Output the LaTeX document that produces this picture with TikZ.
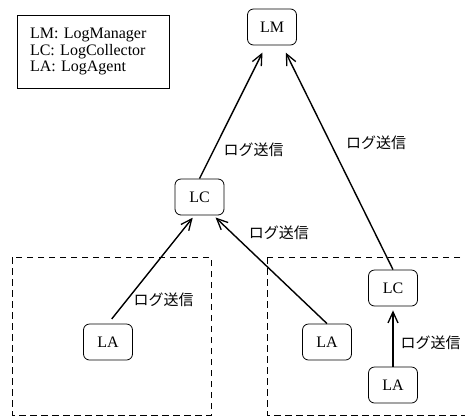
\documentclass[tikz,border=0pt]{standalone}
\usepackage{fontspec}
\setmainfont{Liberation Serif}
\newfontfamily\jpfont{Noto Sans CJK JP}
\usetikzlibrary{positioning,arrows.meta}

\begin{document}
\begin{tikzpicture}[x=1pt, y=-1pt, font=\fontsize{16}{16.5}\selectfont,
    box/.style={draw, line width=0.8pt, rounded corners=6pt, minimum width=49pt, minimum height=36pt, inner sep=0pt},
    zone/.style={line width=0.8pt, dash pattern=on 6.5pt off 4.5pt},
    send/.style={line width=1.4pt, -{Straight Barb[length=11pt, width=10pt, line width=1.3pt]}},
    lbl/.style={font=\jpfont\fontsize{15}{15}\selectfont, inner sep=0pt}]
    \useasboundingbox (0,0) rectangle (465,416);
    \node[draw, line width=0.8pt, align=left, text width=126pt, inner xsep=13pt, minimum height=73pt] (key) at (93,51.5) {LM: LogManager\\LC: LogCollector\\LA: LogAgent};
    \draw[zone] (12,257) rectangle (211,415);
    \draw[zone] (267,257) rectangle (475,415);
    \node[box] (lm) at (272,27) {LM};
    \node[box, on grid, below left = 170pt and 72.5pt of lm] (lc1) {LC};
    \node[box, on grid, below right = 261pt and 121pt of lm] (lc2) {LC};
    \node[box, on grid, below left = 145pt and 91.5pt of lc1] (la1) {LA};
    \node[box, on grid, below right = 145pt and 127.5pt of lc1] (la2) {LA};
    \node[box, on grid, below = 97pt of lc2] (la3) {LA};
    \draw[send, shorten >=8pt] (lc1.north) -- (lm.-108) node[lbl, pos=0.216, right=9pt] (s1) {ログ送信};
    \draw[send, shorten >=8pt] (lc2.north) -- (lm.-61) node[lbl, pos=0.564, right=15pt] (s2) {ログ送信};
    \draw[send, shorten <=6pt, shorten >=3pt] (la1.north) -- (lc1.-105) node[lbl, pos=0.22, right=6pt] (s3) {ログ送信};
    \draw[send, shorten >=3pt] (la2.north) -- (lc1.-53) node[lbl, pos=0.835, right=16pt] (s4) {ログ送信};
    \draw[send, shorten >=4pt] (la3.north) -- (lc2.south) node[lbl, pos=0.4, right=7pt] (s5) {ログ送信};
\end{tikzpicture}
\end{document}
